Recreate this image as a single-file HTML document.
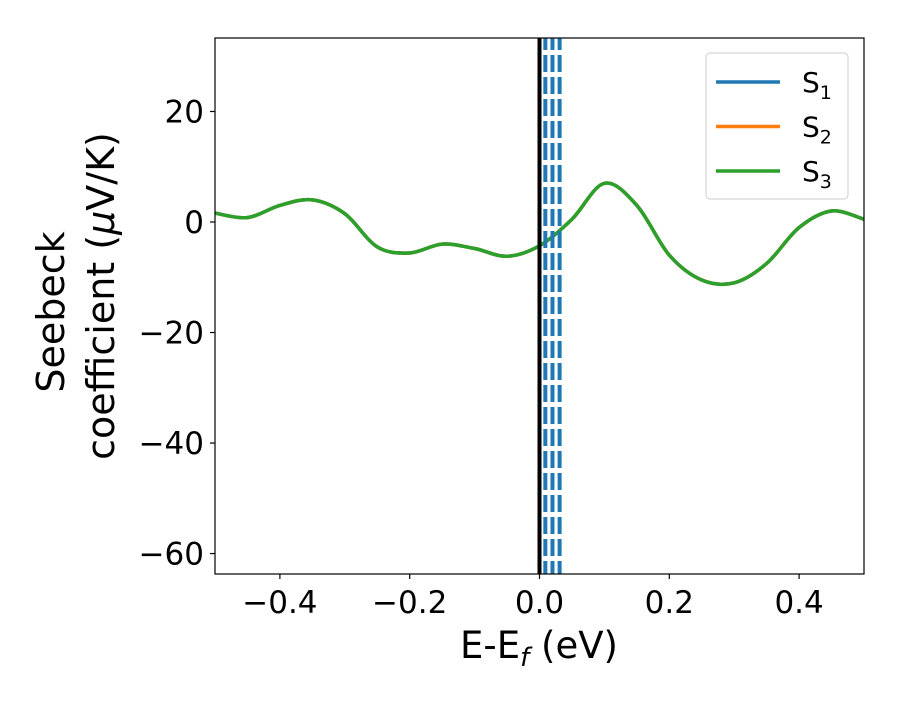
<!DOCTYPE html>
<html><head><meta charset="utf-8"><style>
body{margin:0;background:#fff}
svg text{font-family:"DejaVu Sans","Liberation Sans",sans-serif}
</style></head><body>
<svg id="chart" width="900" height="700" xmlns="http://www.w3.org/2000/svg">
<rect width="900" height="700" fill="#fff"/>
<defs><clipPath id="clip"><rect x="215" y="38" width="649" height="536"/></clipPath></defs>
<g id="series" clip-path="url(#clip)"></g>
<g id="axes"></g>
<g id="legend">
<rect x="706" y="53" width="142" height="146" rx="4" fill="#fff" stroke="#ccc" stroke-width="1" fill-opacity="0.8"/>
</g>
<text x="539" y="658" font-size="37" text-anchor="middle">E-E<tspan font-style="italic" font-size="26" dy="8">f</tspan><tspan dy="-8"> (eV)</tspan></text>
<text transform="translate(64,312) rotate(-90)" font-size="38" text-anchor="middle">Seebeck</text>
<text transform="translate(114,296) rotate(-90)" font-size="38" text-anchor="middle">coefficient  (<tspan font-style="italic">μ</tspan>V/K)</text>
</svg>
<script>
const xData=[-0.5,-0.45,-0.4,-0.35,-0.3,-0.25,-0.2,-0.15,-0.1,-0.05,0.0,0.05,0.1,0.15,0.2,0.25,0.3,0.35,0.4,0.45,0.5];
const s1=[1.6,0.8,3.0,4.0,1.5,-4.5,-5.6,-4.0,-4.8,-6.2,-4.3,0.5,7.0,3.0,-6.0,-10.5,-11.0,-7.5,-1.0,2.0,0.5];
const s2=s1.slice();
const s3=s1.slice();
const xTicks=[-0.4,-0.2,0.0,0.2,0.4];
const xTickLabels=["−0.4","−0.2","0.0","0.2","0.4"];
const yTicks=[20,0,-20,-40,-60];
const yTickLabels=["20","0","−20","−40","−60"];
const fermiLevel=0.0;
const vLines=[0.009,0.020,0.031];
const names=["S","S","S"],subs=["1","2","3"];
const colors=["#1f77b4","#ff7f0e","#2ca02c"];
const X0=215,X1=864,Y0=38,Y1=574,xmin=-0.5,xmax=0.5,ymin=-63.7,ymax=33.3;
const sx=v=>X0+(v-xmin)/(xmax-xmin)*(X1-X0);
const sy=v=>Y1-(v-ymin)/(ymax-ymin)*(Y1-Y0);
const NS="http://www.w3.org/2000/svg";
function mk(t,a,p){const e=document.createElementNS(NS,t);for(const k in a)e.setAttribute(k,a[k]);p.appendChild(e);return e;}
const ser=document.getElementById('series'),ax=document.getElementById('axes'),lg=document.getElementById('legend');
function pathFor(xs,ys){const p=xs.map((x,i)=>[sx(x),sy(ys[i])]);let d="M"+p[0][0]+","+p[0][1];
for(let i=0;i<p.length-1;i++){const a=p[Math.max(i-1,0)],b=p[i],c=p[i+1],e=p[Math.min(i+2,p.length-1)];
d+=" C"+(b[0]+(c[0]-a[0])/6)+","+(b[1]+(c[1]-a[1])/6)+" "+(c[0]-(e[0]-b[0])/6)+","+(c[1]-(e[1]-b[1])/6)+" "+c[0]+","+c[1];}return d;}
[s1,s2,s3].forEach((s,i)=>{const l=mk('path',{d:pathFor(xData,s),fill:"none",stroke:colors[i],"stroke-width":3.5},ser);

});
const fl=mk('line',{x1:sx(fermiLevel),x2:sx(fermiLevel),y1:Y0,y2:Y1,stroke:"#000","stroke-width":4},ser);


vLines.forEach((v,i)=>{const l=mk('line',{x1:sx(v),x2:sx(v),y1:Y0,y2:Y1,stroke:"#1f77b4","stroke-width":4,"stroke-dasharray":"17,5","stroke-dashoffset":"5"},ser);

});
const fr=mk('rect',{x:X0,y:Y0,width:X1-X0,height:Y1-Y0,fill:"none",stroke:"#000","stroke-width":1.2},ax);


xTicks.forEach((v,i)=>{mk('line',{x1:sx(v),x2:sx(v),y1:Y1,y2:Y1+5,stroke:"#000","stroke-width":1.2},ax);
const t=mk('text',{x:sx(v),y:Y1+39,"font-size":31,"text-anchor":"middle"},ax);t.textContent=xTickLabels[i];

});
yTicks.forEach((v,i)=>{mk('line',{x1:X0-5,x2:X0,y1:sy(v),y2:sy(v),stroke:"#000","stroke-width":1.2},ax);
const t=mk('text',{x:X0-11,y:sy(v)+11,"font-size":31,"text-anchor":"end"},ax);t.textContent=yTickLabels[i];

});
names.forEach((n,i)=>{const y=82+i*44.5;
const l=mk('line',{x1:716,x2:780,y1:y,y2:y,stroke:colors[i],"stroke-width":3.5},lg);


const t=mk('text',{x:802,y:y+10,"font-size":28},lg);t.textContent=n;
const ts=mk('tspan',{"font-size":19,dy:7},t);ts.textContent=subs[i];

});
</script>
</body></html>
